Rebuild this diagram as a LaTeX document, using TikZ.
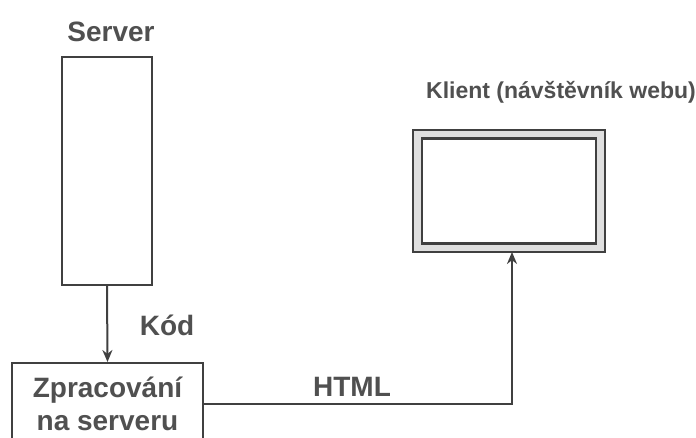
\documentclass[tikz,border=0pt]{standalone}
\usepackage{fontspec}
\setmainfont{Liberation Sans}
\usetikzlibrary{arrows.meta}
\definecolor{ink}{HTML}{404040}
\definecolor{txt}{HTML}{505050}
\begin{document}
\begin{tikzpicture}[x=1pt,y=-1pt,
  lbl/.style={text=txt,font=\bfseries\fontsize{28}{31}\selectfont,inner sep=0pt},
  box/.style={draw=ink,line width=2pt,inner sep=0pt},
  conn/.style={draw=ink,line width=2pt,-{Stealth[length=12pt,width=10pt]}}]
\useasboundingbox (0,0) rectangle (696,437);
\clip (0,0) rectangle (696,437);
\fill[white] (0,0) rectangle (696,437);
% server
\node[lbl] (serverlbl) at (111,32) {Server};
\node[box,minimum width=90pt,minimum height=228pt] (server) at (107,171) {};
% processing
\node[box,minimum width=191pt,minimum height=82pt,text=txt,align=center,
  font=\bfseries\fontsize{28}{33}\selectfont] (proc) at (107.5,404) {Zpracování\\na serveru};
% client
\node[lbl,font=\bfseries\fontsize{23}{28}\selectfont] (clientlbl) at (561,92) {Klient (návštěvník webu)};
\node[draw=ink,line width=2.8pt,fill=gray!25,minimum width=192pt,minimum height=122pt] (client) at (509,191) {};
\node[draw=ink,line width=2.4pt,fill=white,minimum width=174pt,minimum height=105pt] (clientin) at (client.center) {};
% connectors
\draw[conn] (server.south) -- (proc.north);
\node[lbl] (kod) at (167,325) {Kód};
\draw[conn] (proc.east) -| ([xshift=3pt,yshift=1.4pt]client.south);
\node[lbl] (html) at (352,387) {HTML};
\end{tikzpicture}
\end{document}
